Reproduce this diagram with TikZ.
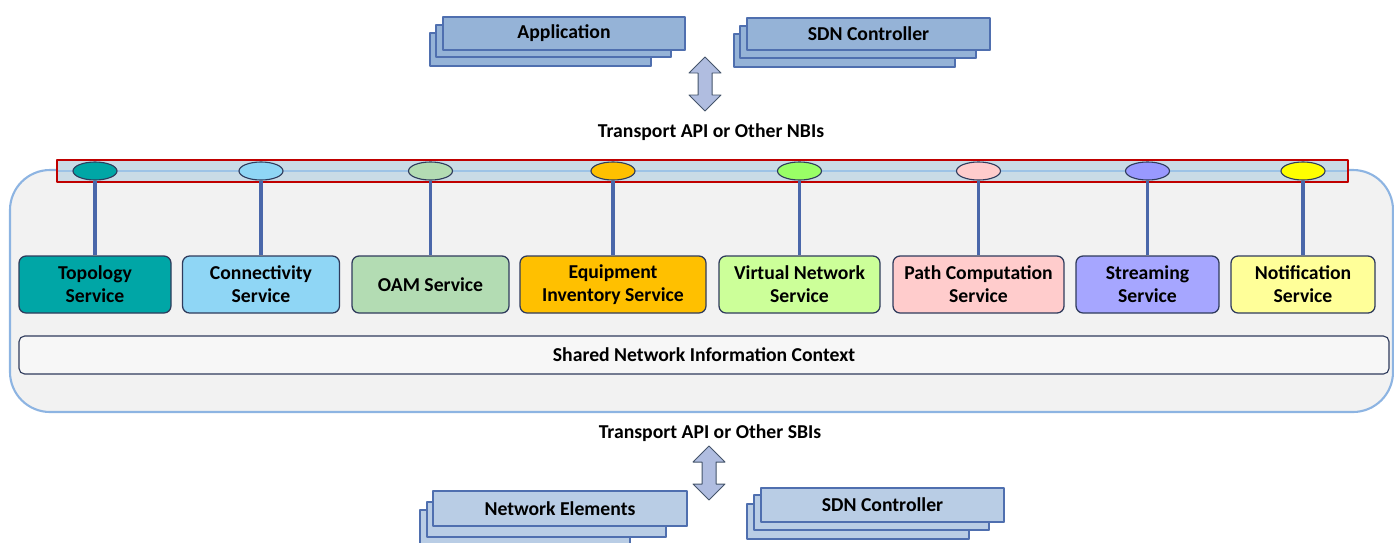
\documentclass[tikz,border=0pt]{standalone}
\usepackage{fontspec}
\setmainfont{Carlito}
\usetikzlibrary{shapes.geometric,shadows}
\definecolor{stacktop}{HTML}{95B3D7}
\definecolor{stackbot}{HTML}{B9CDE5}
\definecolor{stackline}{HTML}{4F6FAF}
\definecolor{arrowfill}{HTML}{B0BDE0}
\definecolor{arrowline}{HTML}{44546A}
\definecolor{ctxfill}{HTML}{F2F2F2}
\definecolor{ctxline}{HTML}{8DB4E2}
\definecolor{busfill}{HTML}{C9DBE6}
\definecolor{busline}{HTML}{C00000}
\definecolor{stripe}{HTML}{9DC3E6}
\definecolor{linkcol}{HTML}{4A67AA}
\definecolor{svcline}{HTML}{2F3B5C}
\definecolor{sharedfill}{HTML}{F7F7F7}
\definecolor{cTopo}{HTML}{00A6A6}
\definecolor{cConn}{HTML}{8FD6F5}
\definecolor{cOam}{HTML}{B3DCB3}
\definecolor{cEquip}{HTML}{FFC000}
\definecolor{cVirt}{HTML}{CCFF99}
\definecolor{cVirtDot}{HTML}{99FF66}
\definecolor{cPath}{HTML}{FFCCCC}
\definecolor{cStream}{HTML}{A6A6FF}
\definecolor{cStreamDot}{HTML}{9999FF}
\definecolor{cNotif}{HTML}{FFFF99}
\definecolor{cNotifDot}{HTML}{FFFF00}
\begin{document}
\begin{tikzpicture}[x=0.025cm, y=-0.025cm, line join=round]
\tikzset{every node/.style={font=\bfseries\fontsize{14}{16.4}\selectfont, inner sep=0pt},
  sz/.style 2 args={minimum width=#1*0.025cm, minimum height=#2*0.025cm},
  stackbox/.style={draw=stackline, fill=#1, line width=0.8pt, drop shadow={opacity=0.25, shadow xshift=1pt, shadow yshift=-1pt}},
  svcbox/.style={draw=svcline, rounded corners=5pt, align=center, line width=0.9pt},
  dotnode/.style={ellipse, draw=svcline, line width=0.8pt, sz={44}{18}},
  link/.style={draw=linkcol, line width=2.8pt},
  blockarrow/.style={draw=arrowline, fill=arrowfill, line width=0.7pt}}
\useasboundingbox (0,0) rectangle (1394,542);
\node[draw=ctxline, fill=ctxfill, line width=1.5pt, rounded corners=1cm, sz={1383}{242}] (ctx) at (701.5,291) {};
\node[draw=busline, fill=busfill, line width=2pt, sz={1291}{22}, drop shadow={opacity=0.2, shadow xshift=1pt, shadow yshift=-1pt}] (bus) at (702.5,171) {};
\draw[draw=stripe, line width=2pt] ([xshift=1.5pt]bus.west) -- ([xshift=-1.5pt]bus.east);
\foreach \nm/\x/\w/\col/\dot/\txt in {
    topo/95/152/cTopo/cTopo/{Topology\\Service},
    conn/261/157/cConn/cConn/{Connectivity\\Service},
    oam/430.5/157/cOam/cOam/{OAM Service},
    equip/613/186/cEquip/cEquip/{Equipment\\Inventory Service},
    virt/799.5/161/cVirt/cVirtDot/{Virtual Network\\Service},
    path/978.5/171/cPath/cPath/{Path Computation\\Service},
    stream/1147.5/143/cStream/cStreamDot/{Streaming\\Service},
    notif/1303/144/cNotif/cNotifDot/{Notification\\Service}}{
  \node[dotnode, fill=\dot] (d\nm) at (\x,171) {};
  \node[svcbox, fill=\col, sz={\w}{57}] (s\nm) at (\x,284.5) {\txt};
  \draw[link] (d\nm) -- (s\nm);
}
\node[draw=svcline, fill=sharedfill, rounded corners=4pt, line width=0.8pt, sz={1370}{38}] (shared) at (704,355) {Shared Network Information Context};
\node[stackbox=stacktop, sz={221}{33}] (app3) at (540.5,49.5) {};
\node[stackbox=stacktop, sz={235}{32}] (app2) at (553.5,41) {};
\node[stackbox=stacktop, sz={242}{33}] (app) at (564,33.5) {Application};
\node[stackbox=stacktop, sz={221}{33}] (ctl3) at (844.5,50.5) {};
\node[stackbox=stacktop, sz={236}{32}] (ctl2) at (858,42) {};
\node[stackbox=stacktop, sz={243}{32}] (ctl) at (868.5,34) {SDN Controller};
\node (nbi) at (711,132) {Transport API or Other NBIs};
\coordinate (nbiarrow) at (705,84);
\draw[blockarrow] (nbiarrow) ++(0,-27) -- ++(16,16) -- ++(-9,0) -- ++(0,22) -- ++(9,0) -- ++(-16,16) -- ++(-16,-16) -- ++(9,0) -- ++(0,-22) -- ++(-9,0) -- cycle;
\node (sbi) at (710,433) {Transport API or Other SBIs};
\coordinate (sbiarrow) at (709,473);
\draw[blockarrow] (sbiarrow) ++(0,-27) -- ++(16,16) -- ++(-9,0) -- ++(0,22) -- ++(9,0) -- ++(-16,16) -- ++(-16,-16) -- ++(9,0) -- ++(0,-22) -- ++(-9,0) -- cycle;
\node[stackbox=stackbot, sz={210}{35}] (ne3) at (525,527.5) {};
\node[stackbox=stackbot, sz={239}{35}] (ne2) at (546.5,519.5) {};
\node[stackbox=stackbot, sz={254}{35}] (ne) at (560,508.5) {Network Elements};
\node[stackbox=stackbot, sz={222}{35}] (sctl3) at (858,521.5) {};
\node[stackbox=stackbot, sz={235}{35}] (sctl2) at (871.5,512.5) {};
\node[stackbox=stackbot, sz={243}{34}] (sctl) at (882.5,505) {SDN Controller};
\end{tikzpicture}
\end{document}
